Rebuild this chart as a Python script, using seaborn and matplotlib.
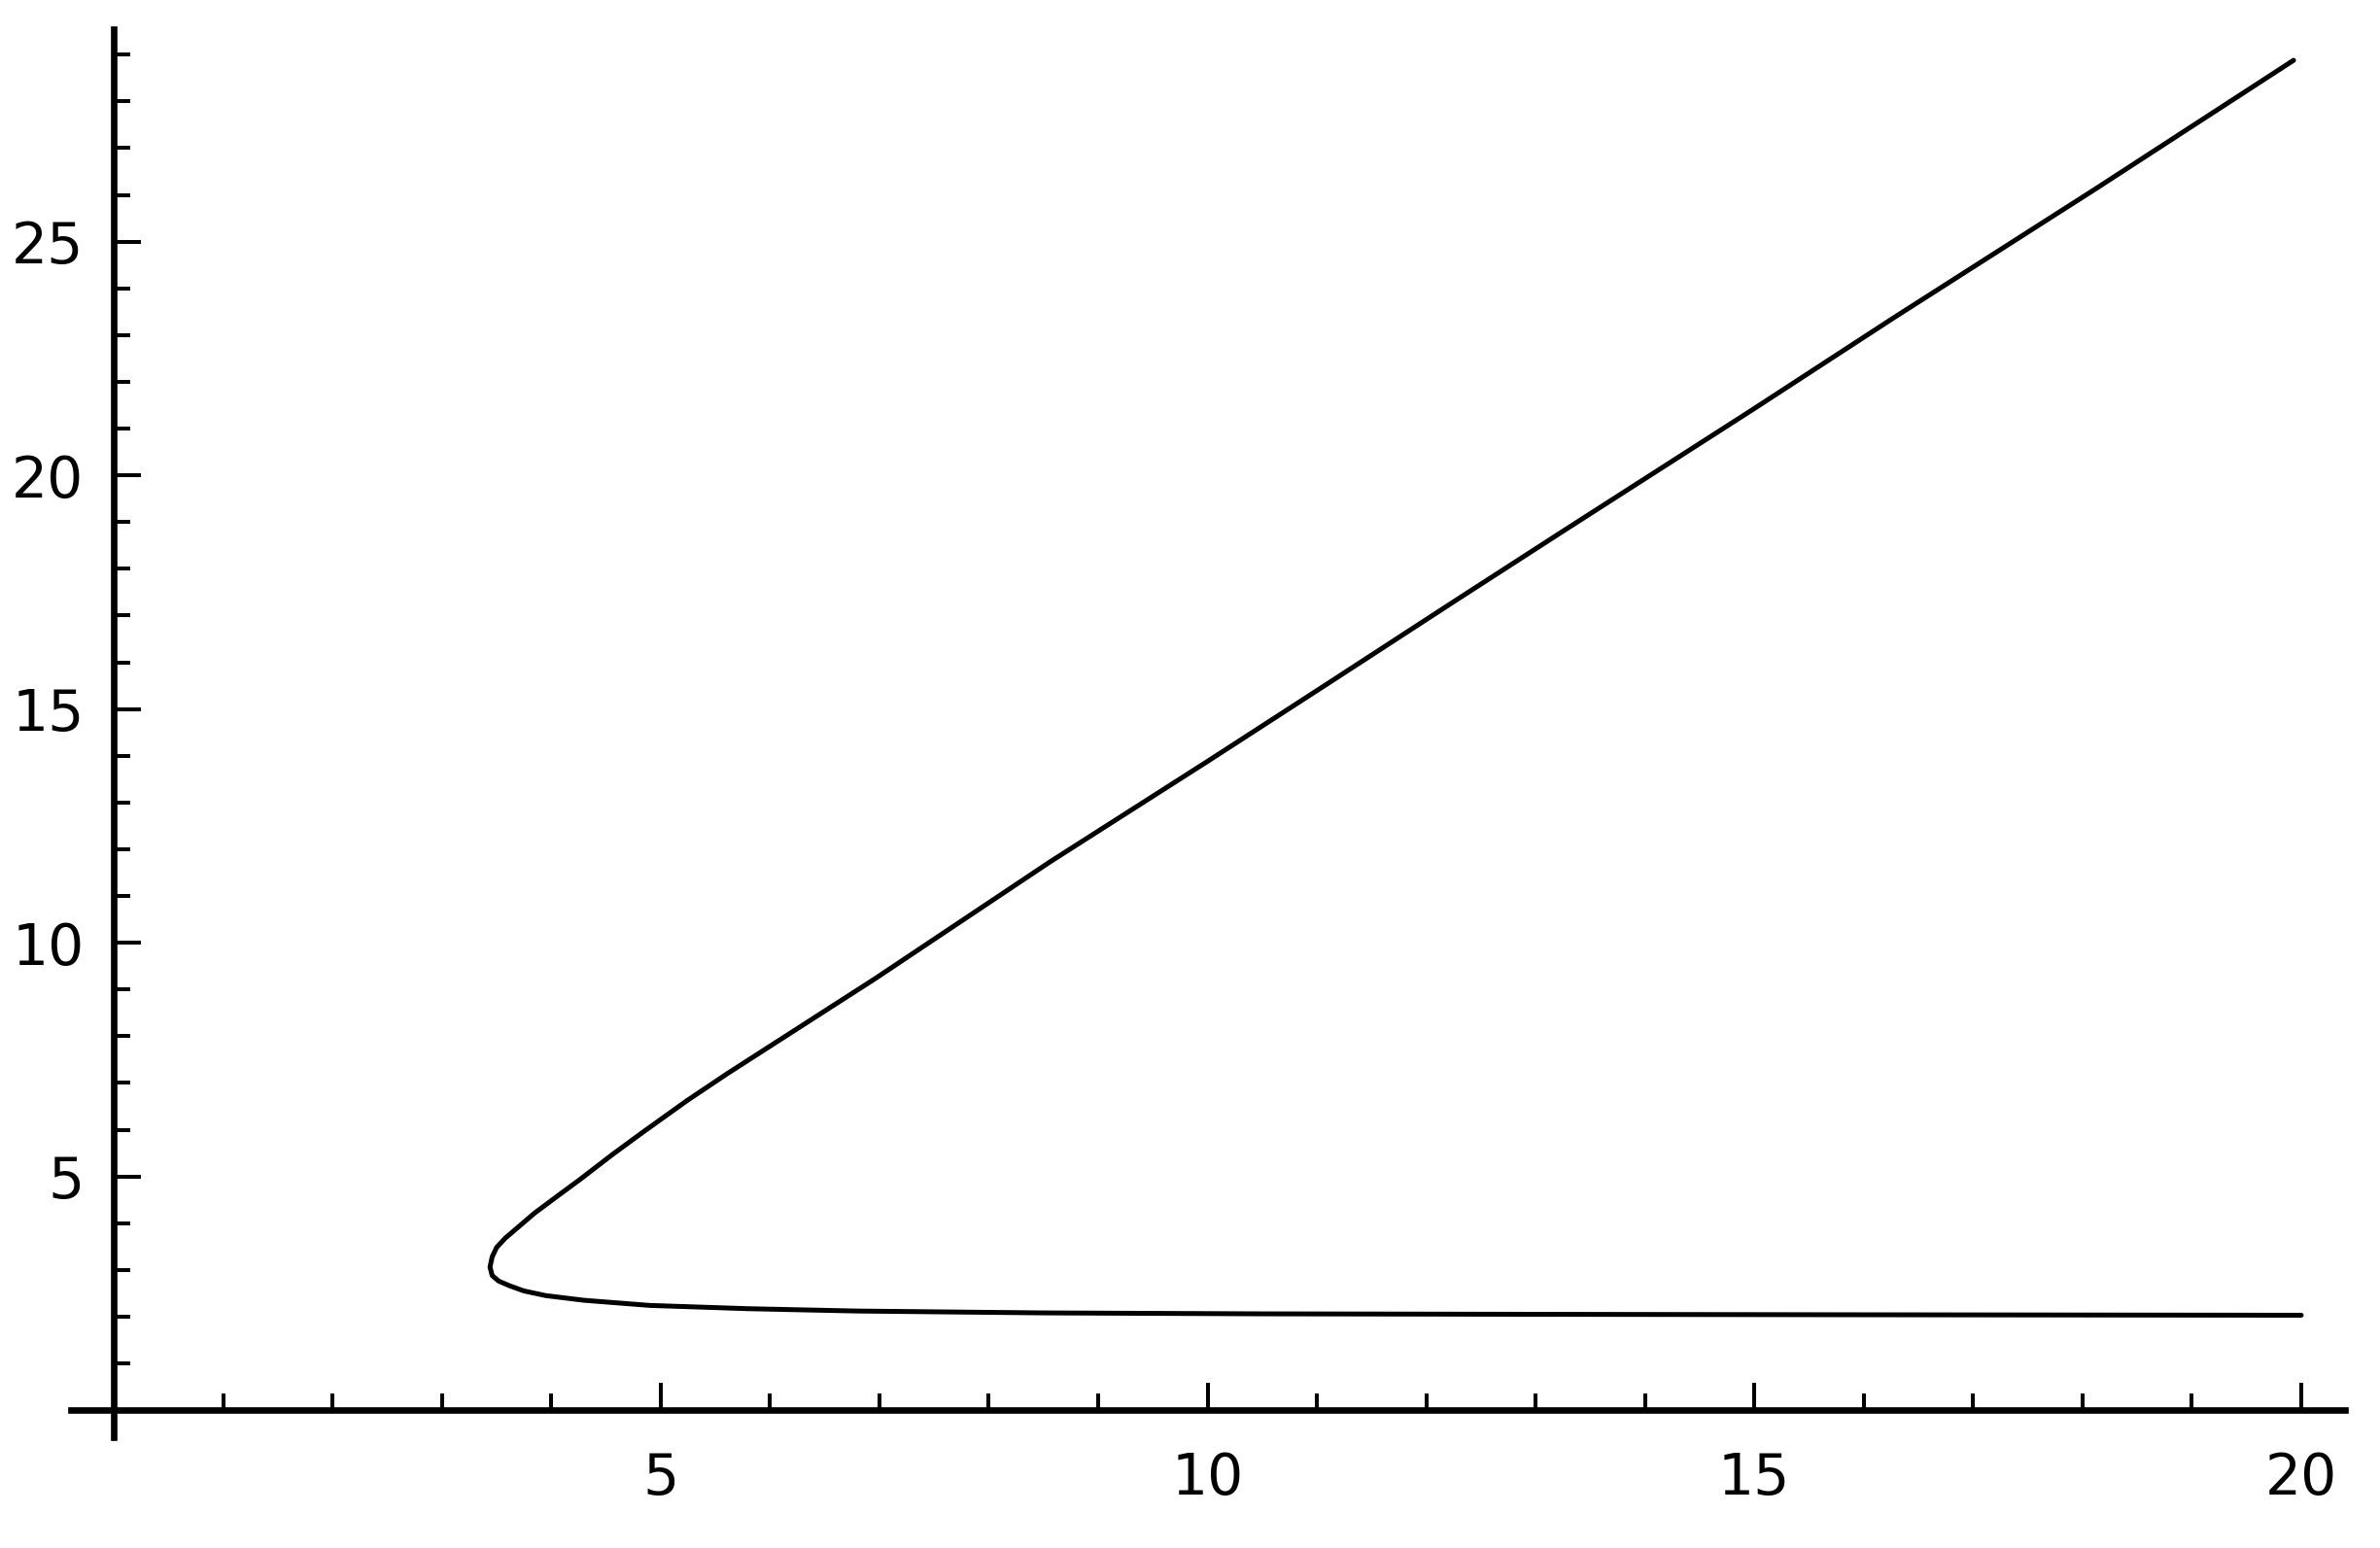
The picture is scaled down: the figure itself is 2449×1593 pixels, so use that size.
import numpy as np
import pandas as pd
import matplotlib
matplotlib.use("Agg")
import matplotlib.pyplot as plt
import seaborn as sns
from matplotlib.ticker import FixedLocator

# curve, traced from the top end of the upper branch,
# round the nose and out along the lower branch
upperX = [19.93, 18.12, 16.26, 14.98, 13.24, 12.26, 11.07, 10.0, 8.56, 6.96,
          5.61, 5.24, 4.84, 4.56, 4.26, 4.08, 3.85, 3.70, 3.58, 3.50, 3.46]
upperY = [28.88, 26.13, 23.35, 21.40, 18.79, 17.31, 15.50, 13.88, 11.73, 9.23,
          7.20, 6.62, 5.95, 5.47, 4.93, 4.62, 4.22, 3.92, 3.68, 3.48, 3.28]
noseX = [3.44]
noseY = [3.06]
lowerX = [3.46, 3.52, 3.62, 3.75, 3.95, 4.3, 4.9, 5.8, 6.8, 8.5, 10.5, 13.0, 16.0, 20.0]
lowerY = [2.88, 2.76, 2.66, 2.55, 2.45, 2.35, 2.24, 2.17, 2.12, 2.08, 2.06, 2.05, 2.04, 2.03]

xMajor = [5, 10, 15, 20]
yMajor = [5, 10, 15, 20, 25]
xMinor = [v for v in range(1, 20) if v % 5]
yMinor = [v for v in range(1, 30) if v % 5]

df = pd.DataFrame({
    "x": upperX + noseX + lowerX,
    "y": upperY + noseY + lowerY,
})

sns.set_style("white")
plt.rcParams["font.family"] = ["DejaVu Sans"]

fig = plt.figure(figsize=(24.49, 15.93), dpi=100)
ax = fig.add_axes([0, 0, 1, 1])

sns.lineplot(data=df, x="x", y="y", sort=False, estimator=None,
             color="black", linewidth=3.6, ax=ax)

ax.set_xlim(-1.04, 20.72)
ax.set_ylim(-2.95, 30.17)

# Mathematica-style axes crossing at the origin
for side in ["top", "right"]:
    ax.spines[side].set_visible(False)
for side in ["left", "bottom"]:
    ax.spines[side].set_position(("data", 0))
    ax.spines[side].set_linewidth(4.8)
    ax.spines[side].set_color("black")
ax.spines["bottom"].set_bounds(-0.39, 20.4)
ax.spines["left"].set_bounds(-0.58, 29.55)

ax.xaxis.set_major_locator(FixedLocator(xMajor))
ax.yaxis.set_major_locator(FixedLocator(yMajor))
ax.xaxis.set_minor_locator(FixedLocator(xMinor))
ax.yaxis.set_minor_locator(FixedLocator(yMinor))

ax.tick_params(axis="both", which="both", bottom=True, left=True,
               top=False, right=False, direction="in", color="black",
               labelcolor="black")
ax.tick_params(axis="both", which="major", length=20, width=2.9, labelsize=42)
ax.tick_params(axis="both", which="minor", length=12, width=2.9)
ax.tick_params(axis="x", which="major", pad=30)
ax.tick_params(axis="y", which="major", pad=22)

ax.set_xlabel("")
ax.set_ylabel("")
ax.grid(False)

fig.savefig("out.png", dpi=100, facecolor="white")
